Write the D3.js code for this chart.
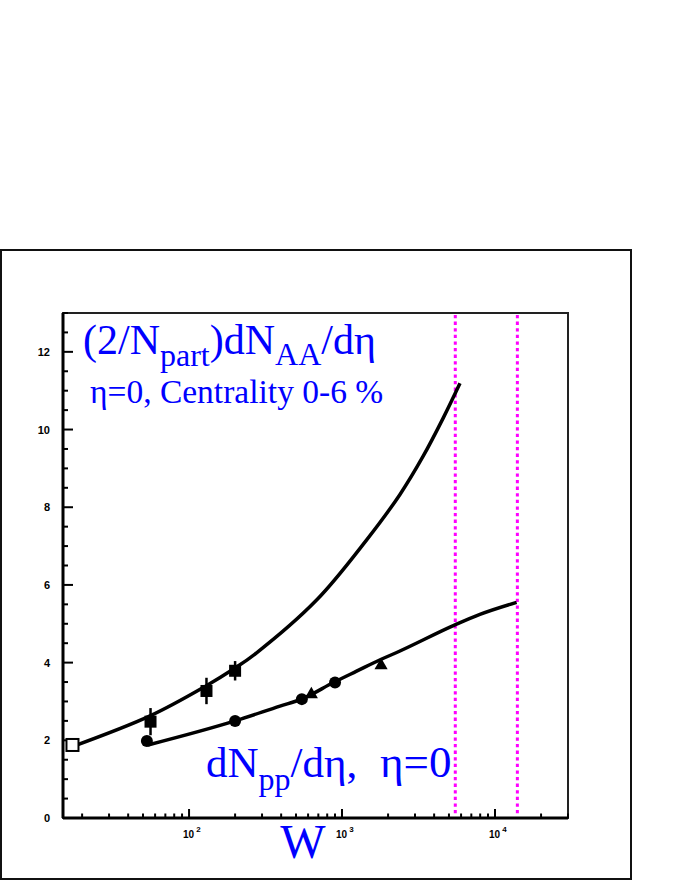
<!DOCTYPE html>
<html><head><meta charset="utf-8">
<script src="https://cdn.jsdelivr.net/npm/d3@7"></script>
<style>body{margin:0;background:#fff}svg{display:block}</style>
</head><body>
<svg id="c" width="681" height="881"></svg>
<script>
// ---- data ----
const xDomain = [15, 30000];
const yDomain = [0, 13];
const yMajorTicks = [0, 2, 4, 6, 8, 10, 12];
const xDecadeTicks = [100, 1000, 10000];
const xDecadeLabels = ["2", "3", "4"];
const aaOpenW = [17.3];
const aaOpenV = [1.88];
const aaW = [56, 130, 200];
const aaV = [2.48, 3.27, 3.79];
const aaErr = [0.35, 0.34, 0.25];
const ppCircW = [53, 200, 546, 900];
const ppCircV = [1.98, 2.50, 3.06, 3.49];
const ppTriW = [630, 1800];
const ppTriV = [3.18, 3.93];
const aaCurveW = [17.3, 55.6, 129, 200, 270, 682, 1449, 2392, 3398, 4591, 5902];
const aaCurveV = [1.84, 2.63, 3.40, 3.86, 4.22, 5.61, 7.16, 8.33, 9.32, 10.30, 11.19];
const ppCurveW = [53.9, 200, 393, 544, 890, 1246, 1790, 2277, 5474, 7967, 13840];
const ppCurveV = [1.88, 2.50, 2.88, 3.06, 3.50, 3.78, 4.08, 4.26, 4.97, 5.24, 5.55];
const energyLines = [5500, 14000];

// ---- layout ----
const svg = d3.select("#c");
const L = 63, R = 568, T = 313, B = 818;
const x = d3.scaleLog().domain(xDomain).range([L, R]);
const y = d3.scaleLinear().domain(yDomain).range([B, T]);
const blue = "#0000ff";

// outer frame
svg.append("rect").attr("x", 1).attr("y", 250).attr("width", 630).attr("height", 629)
  .attr("fill", "none").attr("stroke", "#111").attr("stroke-width", 2);

// plot frame
svg.append("rect").attr("x", L).attr("y", T).attr("width", R - L).attr("height", B - T)
  .attr("fill", "none").attr("stroke", "#222").attr("stroke-width", 2);

// y ticks
const yMinor = d3.range(0, 13.01, 0.5);
const gy = svg.append("g");
gy.selectAll("line").data(yMinor).join("line")
  .attr("x1", L).attr("x2", d => L + (d % 2 === 0 ? 10 : 5))
  .attr("y1", d => y(d)).attr("y2", d => y(d))
  .attr("stroke", "#000").attr("stroke-width", 2);
gy.selectAll("text").data(yMajorTicks).join("text")
  .attr("x", 50).attr("y", d => y(d) + 4)
  .attr("text-anchor", "end").attr("font-family", "Liberation Sans, Arial, sans-serif")
  .attr("font-weight", "bold").attr("font-size", 11).text(d => d);

// x ticks
const xMinor = [];
[10, 100, 1000, 10000].forEach(dec => { for (let k = 1; k < 10; k++) { const v = dec * k; if (v >= xDomain[0] && v <= xDomain[1]) xMinor.push(v); } });
const gx = svg.append("g");
gx.selectAll("line").data(xMinor).join("line")
  .attr("x1", d => x(d)).attr("x2", d => x(d))
  .attr("y1", B).attr("y2", d => B - (xDecadeTicks.includes(d) ? 9 : 4.5))
  .attr("stroke", "#000").attr("stroke-width", 2);
const xl = gx.selectAll("text").data(xDecadeTicks).join("text")
  .attr("x", d => x(d) - 6).attr("y", 838)
  .attr("font-family", "Liberation Sans, Arial, sans-serif")
  .attr("font-weight", "bold").attr("font-size", 10);
xl.append("tspan").text("10");
xl.append("tspan").attr("dx", 2).attr("dy", -6).attr("font-size", 8).text((d, i) => xDecadeLabels[i]);

// axis lines thicker
svg.append("line").attr("x1", L).attr("x2", R).attr("y1", B).attr("y2", B).attr("stroke", "#000").attr("stroke-width", 3);
svg.append("line").attr("x1", L).attr("x2", L).attr("y1", T).attr("y2", B).attr("stroke", "#000").attr("stroke-width", 3);

// energy lines
svg.selectAll(".en").data(energyLines).join("line")
  .attr("x1", d => x(d)).attr("x2", d => x(d)).attr("y1", T + 2).attr("y2", B - 2)
  .attr("stroke", "#ff00ff").attr("stroke-width", 3).attr("stroke-dasharray", "3.3,3.3");

// curves
const lineAA = d3.line().x(d => x(d[0])).y(d => y(d[1])).curve(d3.curveCatmullRom.alpha(0.5));
const linePP = d3.line().x(d => x(d[0])).y(d => y(d[1])).curve(d3.curveMonotoneX);
svg.append("path").attr("d", lineAA(aaCurveW.map((w, i) => [w, aaCurveV[i]])))
  .attr("fill", "none").attr("stroke", "#000").attr("stroke-width", 3.5);
svg.append("path").attr("d", linePP(ppCurveW.map((w, i) => [w, ppCurveV[i]])))
  .attr("fill", "none").attr("stroke", "#000").attr("stroke-width", 3.5);

// error bars
svg.selectAll(".err").data(aaW).join("line")
  .attr("x1", d => x(d)).attr("x2", d => x(d))
  .attr("y1", (d, i) => y(aaV[i] - aaErr[i])).attr("y2", (d, i) => y(aaV[i] + aaErr[i]))
  .attr("stroke", "#000").attr("stroke-width", 2.5);
// filled squares
svg.selectAll(".sq").data(aaW).join("rect")
  .attr("x", d => x(d) - 6).attr("y", (d, i) => y(aaV[i]) - 6).attr("width", 12).attr("height", 12)
  .attr("fill", "#000");
// open square
svg.selectAll(".osq").data(aaOpenW).join("rect")
  .attr("x", d => x(d) - 6).attr("y", (d, i) => y(aaOpenV[i]) - 6).attr("width", 12).attr("height", 12)
  .attr("fill", "#fff").attr("stroke", "#000").attr("stroke-width", 2);
// circles
svg.selectAll(".ci").data(ppCircW).join("circle")
  .attr("cx", d => x(d)).attr("cy", (d, i) => y(ppCircV[i])).attr("r", 6).attr("fill", "#000");
// triangles
const tri = d3.symbol().type(d3.symbolTriangle).size(75);
svg.selectAll(".tr").data(ppTriW).join("path")
  .attr("d", tri).attr("transform", (d, i) => `translate(${x(d)},${y(ppTriV[i])})`).attr("fill", "#000");

// texts
const serif = "Liberation Serif, Times New Roman, serif";
const t1 = svg.append("text").attr("x", 83).attr("y", 354).attr("fill", blue)
  .attr("font-family", serif).attr("font-size", 42);
t1.append("tspan").text("(2/N");
t1.append("tspan").attr("dy", 12).attr("font-size", 32).text("part");
t1.append("tspan").attr("dy", -12).text(")dN");
t1.append("tspan").attr("dy", 11).attr("font-size", 32).text("AA");
t1.append("tspan").attr("dy", -11).text("/dη");

svg.append("text").attr("x", 90).attr("y", 403).attr("fill", blue)
  .attr("font-family", serif).attr("font-size", 33.5).text("η=0, Centrality 0-6 %");

const t3 = svg.append("text").attr("x", 206).attr("y", 777).attr("fill", blue)
  .attr("font-family", serif).attr("font-size", 43);
t3.append("tspan").text("dN");
t3.append("tspan").attr("dy", 13).attr("font-size", 32).text("pp");
t3.append("tspan").attr("dy", -13).text("/dη,");
svg.append("text").attr("x", 380).attr("y", 777).attr("fill", blue)
  .attr("font-family", serif).attr("font-size", 45).text("η=0");

svg.append("text").attr("x", 303).attr("y", 858).attr("fill", blue).attr("text-anchor", "middle")
  .attr("font-family", serif).attr("font-size", 48).text("W");
</script>
</body></html>
